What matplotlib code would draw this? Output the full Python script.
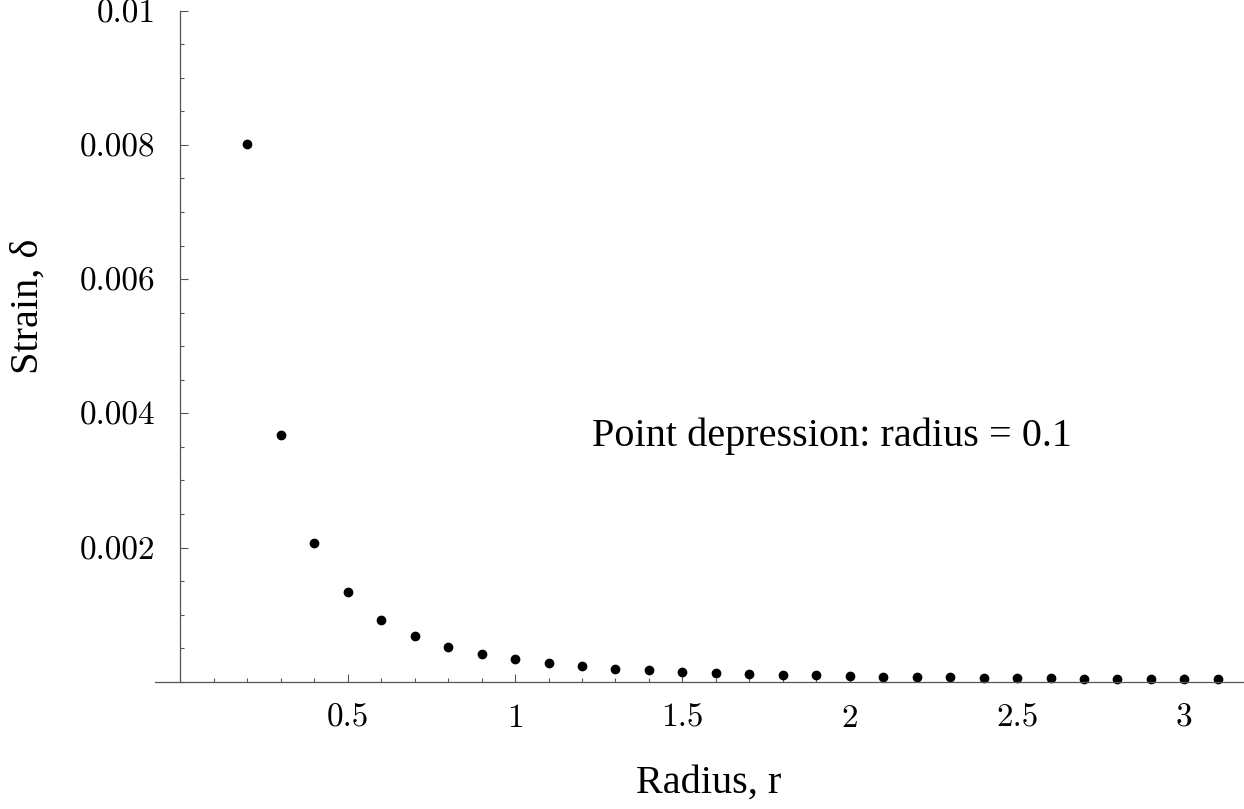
import matplotlib
matplotlib.use("Agg")
import matplotlib.pyplot as plt
from matplotlib.ticker import MultipleLocator

# data
radius = [0.2, 0.3, 0.4, 0.5, 0.6, 0.7, 0.8, 0.9, 1.0, 1.1,
          1.2, 1.3, 1.4, 1.5, 1.6, 1.7, 1.8, 1.9, 2.0, 2.1,
          2.2, 2.3, 2.4, 2.5, 2.6, 2.7, 2.8, 2.9, 3.0, 3.1]
strain = [0.00802, 0.00367, 0.00207, 0.00133, 0.000924, 0.000677, 0.000517, 0.000413, 0.000334, 0.000274,
          0.000228, 0.000195, 0.000168, 0.000146, 0.000130, 0.000115, 0.000103, 0.000093, 0.000084, 0.000076,
          0.000069, 0.000063, 0.000058, 0.000054, 0.000050, 0.000046, 0.000043, 0.000040, 0.000037, 0.000035]

x_ticks = [0.5, 1, 1.5, 2, 2.5, 3]
x_tick_labels = ["0.5", "1", "1.5", "2", "2.5", "3"]
y_ticks = [0.002, 0.004, 0.006, 0.008, 0.01]
y_tick_labels = ["0.002", "0.004", "0.006", "0.008", "0.01"]

fig = plt.figure(figsize=(12.44, 8.09), dpi=100)
ax = fig.add_axes([155 / 1244, 127.3 / 809, 1089 / 1244, 681.7 / 809])

ax.plot(radius, strain, 'o', color='black', markersize=6, clip_on=False)

ax.set_xlim(-0.076, 3.178)
ax.set_ylim(0, 0.01016)

# mathematica style axes crossing at the origin
for s in ['top', 'right']:
    ax.spines[s].set_visible(False)
ax.spines['left'].set_position(('data', 0))
ax.spines['left'].set_bounds(0, 0.01)
ax.spines['bottom'].set_position(('data', 0))
for s in ['left', 'bottom']:
    ax.spines[s].set_color('#555555')
    ax.spines[s].set_linewidth(0.9)

ax.set_xticks(x_ticks)
ax.set_xticklabels(x_tick_labels)
ax.set_yticks(y_ticks)
ax.set_yticklabels(y_tick_labels)
ax.xaxis.set_minor_locator(MultipleLocator(0.1))
ax.yaxis.set_minor_locator(MultipleLocator(0.0005))

ax.tick_params(which='both', direction='in', color='#555555', width=0.8)
ax.tick_params(which='major', length=5.5)
ax.tick_params(which='minor', length=2.8)
ax.tick_params(axis='y', which='major', pad=18, labelsize=24)
ax.tick_params(axis='x', which='major', pad=16, labelsize=24)
for lab in ax.get_xticklabels() + ax.get_yticklabels():
    lab.set_fontfamily('cmr10')

ax.text(1.23, 0.00366, "Point depression: radius = 0.1", fontsize=29,
        family='Liberation Serif', ha='left', va='center')

fig.text(709 / 1244, 1 - 783 / 809, "Radius, r", fontsize=29,
         family='Liberation Serif', ha='center', va='center')
fig.text(28 / 1244, 1 - 306 / 809, "Strain, δ", fontsize=29, rotation=90,
         family='Liberation Serif', ha='center', va='center')

fig.savefig('out.png', dpi=100)
